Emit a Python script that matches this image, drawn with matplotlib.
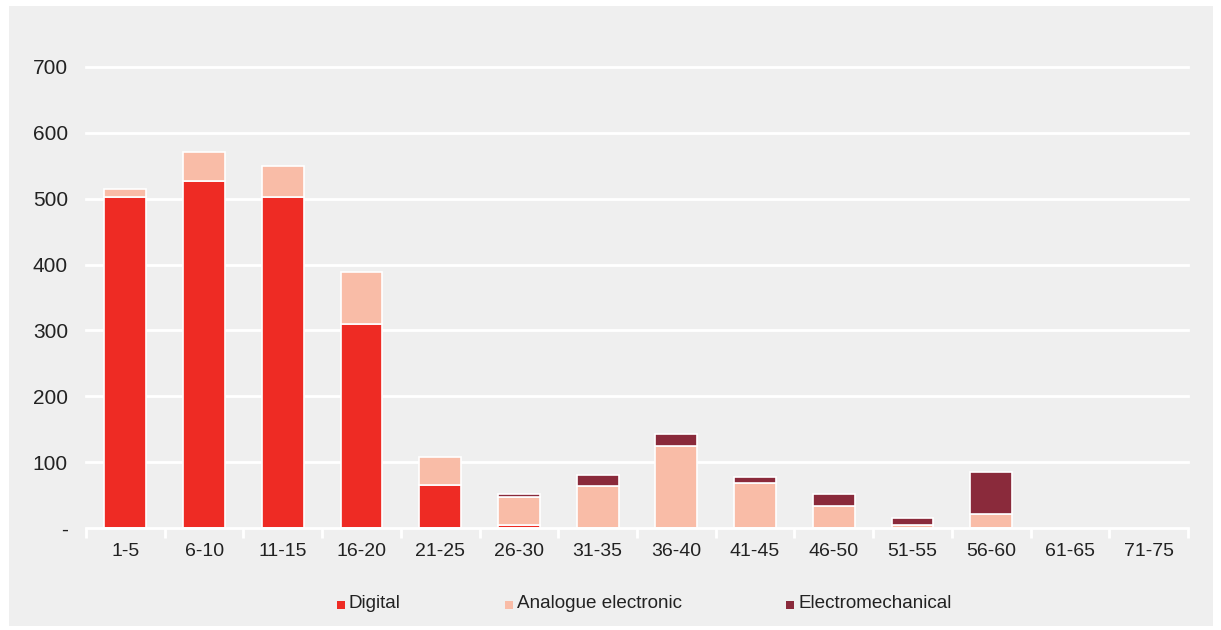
import matplotlib
matplotlib.use("Agg")
import matplotlib.pyplot as plt
from matplotlib.patches import Rectangle
import numpy as np

# Age bands (years) and counts per technology
categories = ["1-5", "6-10", "11-15", "16-20", "21-25", "26-30", "31-35",
              "36-40", "41-45", "46-50", "51-55", "56-60", "61-65", "71-75"]
digital = [502, 527, 502, 310, 66, 5, 0, 0, 0, 0, 0, 0, 0, 0]
analogue = [13, 44, 48, 79, 42, 42, 64, 124, 68, 33, 4, 21, 0, 0]
electromechanical = [0, 0, 0, 0, 0, 5, 17, 19, 9, 19, 11, 64, 0, 0]
series_names = ["Digital", "Analogue electronic", "Electromechanical"]
y_ticks = [0, 100, 200, 300, 400, 500, 600, 700]
y_tick_labels = ["-", "100", "200", "300", "400", "500", "600", "700"]

colors = ["#EE2B24", "#F9BCA7", "#8A2A3B"]
bg = "#EFEFEF"
text_color = "#222222"

plt.rcParams["font.family"] = ["Liberation Sans", "DejaVu Sans"]

W, H = 1221, 630
fig = plt.figure(figsize=(W / 100, H / 100), dpi=100, facecolor="white")

# grey panel behind the chart
fig.patches.append(Rectangle((9 / W, 1 - 626 / H), (1213 - 9) / W, (626 - 6) / H,
                             transform=fig.transFigure, facecolor=bg,
                             edgecolor="none", zorder=-10))

px_per_unit = 461 / 700
ymax = 720
ax = fig.add_axes([86 / W, 1 - 528 / H, (1188 - 86) / W, ymax * px_per_unit / H])
ax.set_zorder(1)
ax.set_facecolor("none")
ax.set_xlim(-0.5, len(categories) - 0.5)
ax.set_ylim(0, ymax)

x = np.arange(len(categories))
width = 0.53
d = np.array(digital, dtype=float)
a = np.array(analogue, dtype=float)
e = np.array(electromechanical, dtype=float)
for vals, bottom, c in [(d, np.zeros_like(d), colors[0]), (a, d, colors[1]), (e, d + a, colors[2])]:
    mask = vals > 0
    ax.bar(x[mask], vals[mask], width, bottom=bottom[mask],
           color=c, edgecolor="white", linewidth=1.2, zorder=3)

# white horizontal gridlines
for yv in y_ticks[1:]:
    ax.axhline(yv, color="white", linewidth=2, zorder=1, clip_on=False)
ax.axhline(0, color="white", linewidth=2, zorder=4, clip_on=False)

for s in ax.spines.values():
    s.set_visible(False)

ax.set_yticks(y_ticks)
ax.set_yticklabels(y_tick_labels)
ax.tick_params(axis="y", length=0, pad=13, labelsize=15, labelcolor=text_color)

ax.set_xticks(x)
ax.set_xticklabels(categories)
ax.tick_params(axis="x", which="major", length=0, pad=11, labelsize=14,
               labelcolor=text_color)
ax.set_xticks(np.arange(-0.5, len(categories), 1.0), minor=True)
ax.tick_params(axis="x", which="minor", length=7, width=2, color="white")

# legend row
legend_y = 1 - 604 / H
marker_x = [341, 509, 790]
for name, c, mx in zip(series_names, colors, marker_x):
    fig.patches.append(Rectangle(((mx - 4) / W, legend_y - 4.5 / H), 8 / W, 8 / H,
                                 transform=fig.transFigure, facecolor=c,
                                 edgecolor="none", zorder=2))
    fig.text((mx + 8) / W, legend_y, name, ha="left", va="center",
             fontsize=13.6, color=text_color)

fig.savefig("out.png", dpi=100, facecolor="white")
